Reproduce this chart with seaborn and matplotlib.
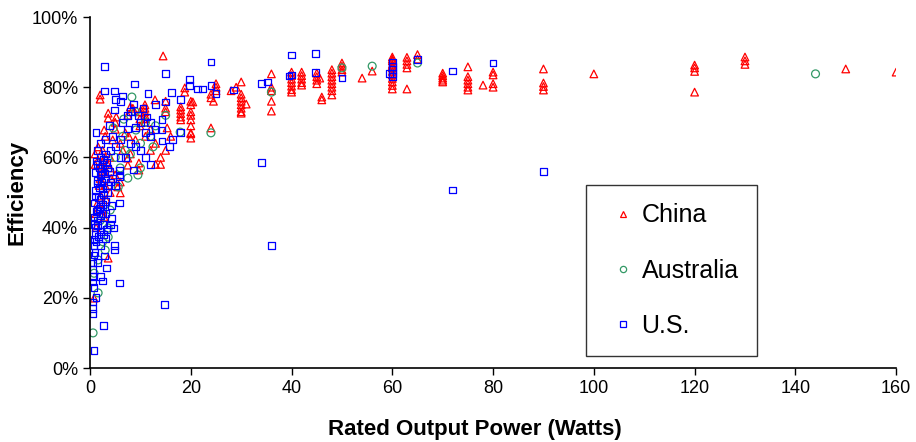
import numpy as np
import pandas as pd
import matplotlib
matplotlib.use("Agg")
import matplotlib.pyplot as plt
from matplotlib.ticker import PercentFormatter, MultipleLocator
from matplotlib.lines import Line2D
import seaborn as sns

# Rated output power (W) and efficiency (%)
china_w = [60, 60, 60, 60, 60, 60, 60, 60, 60, 60, 60, 60,
           62.9, 62.9, 62.9, 62.9, 62.9, 65, 65,
           70, 70, 70, 70, 70, 75, 75, 75, 75, 75, 75, 78,
           80, 80, 80, 80, 90, 90, 90, 90, 100,
           120, 120, 120, 120, 130, 130, 130, 150, 160,
           54, 56, 50, 50, 50, 50,
           48, 48, 48, 48, 48, 48, 48, 48,
           45, 45, 45, 45, 45.6, 46, 46,
           42, 42, 42, 42, 42,
           40, 40, 40, 40, 40, 40, 40,
           36, 36, 36, 36, 36,
           30, 30, 30, 30, 30, 30, 30, 30, 31, 29, 28,
           25, 25, 25, 24, 24, 24.5, 24,
           20, 20, 20, 20, 20, 20, 20, 20, 20, 20.4,
           18.8, 18.8, 18, 18, 18, 18, 18,
           14.5, 15, 15, 15, 15.3, 12.9, 14, 14, 15, 16, 13,
           10.9, 10.9, 10.9, 10.9, 10.9, 10.9, 9.9, 9.9, 9.9,
           8, 8.5, 7.5, 7.7, 8, 7.5, 7.5, 9.7, 9.7,
           3.6, 3.6, 5.2, 2, 2, 2.8, 1.6, 2.5,
           3, 3.5, 4, 2.5, 5, 6, 5.5, 6, 2, 3, 4, 1.5, 2.5, 1.2, 3.6, 0.8,
           1, 1, 4.5, 5, 6, 6.5, 7, 9, 11, 12, 12, 13, 5, 4, 3,
           1.5, 2, 2.5, 3, 1.8, 2.2, 3.2, 4.2, 1.2, 2.8]
china_eff = [88.6, 87.5, 86.5, 85.5, 84.5, 83.5, 82.5, 81.5, 80.5, 79.5, 88, 86,
             88.5, 87.5, 86.5, 85.5, 79.5, 89.3, 88,
             84, 83.3, 82.6, 82, 81.5, 85.8, 83, 82, 81, 80, 79.2, 80.6,
             84.3, 83.5, 81, 80, 85.2, 81.2, 80.2, 79.2, 83.8,
             86.3, 85.5, 84.5, 78.6, 88.6, 87.5, 86.5, 85.2, 84.3,
             82.6, 84.6, 86.9, 86, 85, 84.3,
             85, 84, 83, 82, 81, 80, 79, 77.8,
             84, 83, 82, 81, 82.6, 76.4, 77.2,
             84.3, 83.3, 82.3, 81.3, 80.6,
             84.3, 83.3, 82.3, 81.3, 80.3, 79.3, 78.6,
             83.8, 80, 79, 76, 73.2,
             81.5, 78, 77, 76, 75, 74, 73, 72.6, 75.2, 80, 79,
             81, 80, 79, 78, 77, 76, 68.4,
             76, 75, 73, 72, 70.7, 69, 67, 66.7, 65.5, 75.8,
             79.8, 78.6, 74.4, 73.5, 72.5, 71.5, 70.7,
             88.9, 76, 74, 73, 68.4, 76.4, 60, 58, 62, 66, 64,
             75, 74, 73, 72, 71, 70, 73, 71, 69,
             74.4, 74, 72, 66, 61, 59.8, 57.8, 58.4, 56.4,
             72.6, 71.2, 71.5, 77.8, 76.6, 67.8, 63, 62,
             60, 58, 57, 56, 55, 53, 51.6, 49.9, 54, 52, 50, 47, 45, 40, 31.3, 19.9,
             58, 61, 65, 68, 64, 62, 67, 65, 66, 62, 68, 58, 70, 60, 66,
             59, 57.5, 59, 55.5, 52, 49, 48, 54, 44, 43]

aus_w = [144, 65, 56, 50, 36, 24, 17.9, 8.3, 6.7, 4.6, 9.1, 12, 10, 13, 7,
         5.6, 7.5, 9.5, 3.6, 3.6, 3, 1.6, 0.8, 1.6, 0.6, 8, 11, 12.5, 2.5, 4, 6, 15, 10,
         5, 6.5, 9, 2]
aus_eff = [83.8, 86.9, 86, 85.5, 78.6, 67, 67.2, 77.2, 70.9, 68.4, 67.8, 66, 64, 69, 62,
           51.6, 54.1, 55, 39.9, 37.3, 33.6, 30.8, 27, 21.4, 10, 61, 70, 63, 36, 45, 57, 72, 57,
           60, 66, 73, 42]

us_w = [80, 72, 72, 90, 65, 60, 60, 60, 60, 60, 59.5, 50, 44.8, 44.8, 40, 39.5, 40,
        36, 34, 34, 35.3, 28.4, 24, 24, 25, 21.4, 22.4, 19.8, 19.8, 14.9, 16.2, 11.5,
        14.9, 17.9, 14.7,
        11.3, 12, 12.9, 14.3, 14.3, 17.9, 16.3, 12, 14.3, 15.7, 10, 11, 9, 8.7, 8.9,
        2.8, 2.8, 4.8, 6.5, 5, 6, 4.8, 1.2, 7.5, 6, 5, 4, 3, 2, 1.5, 2.5, 3.5,
        1, 2, 3, 4, 5, 1.5, 2.5, 3.5, 1, 2, 3, 0.8, 4.2, 5.8, 1.5, 2.5, 0.8, 1.5,
        2.5, 4.2, 4.6, 1, 2, 1, 0.8, 0.8, 4.8, 4.8, 0.8, 2.8, 0.6, 0.6, 3.2, 0.6,
        0.6, 2.4, 5.8, 0.8, 0.6, 0.5, 0.6, 2.6, 0.8, 8.7, 5.8, 5.8, 5.8, 7, 6, 8,
        9, 10, 11, 12, 6.5, 7.5, 8, 9.5, 3, 2, 1.5, 3.8, 4.5, 10.5, 13, 1, 2, 3,
        1.5, 2, 1.2,
        1.2, 1.8, 2.2, 2.6, 3.2, 1.4, 1.9, 2.3, 2.9, 3.4, 1.1, 1.6, 2.1, 2.7,
        3.8, 4.4, 1.3, 1.8, 2.4, 3.0, 0.9, 1.5, 2.0, 2.6, 3.3, 4.0, 1.2, 1.7]
us_eff = [86.9, 84.6, 50.7, 56, 88, 87, 86, 85, 84, 83, 84, 82.6, 89.7, 84.3, 89.2, 83.2, 83.5,
          35, 58.6, 81, 81.5, 79.2, 87.2, 80.6, 78.3, 79.5, 79.5, 82.3, 80.6, 84, 78.6, 78.3,
          75.8, 76.6, 18,
          71.5, 70, 68, 70.7, 67.8, 67.2, 65.2, 65.8, 64.7, 63, 70, 67, 68.5, 75.2, 80.9,
          85.8, 78.9, 78.9, 77.5, 76.6, 76, 73.5, 67.2, 68.1, 65, 63, 62, 61, 60, 58, 58, 57,
          55.6, 55, 54, 53, 52, 52.7, 51, 50, 49, 48, 47.5, 47, 46.4, 47, 45, 44, 43, 42,
          41, 42.7, 39.9, 40, 39, 38, 36.5, 35, 35, 33.6, 32.2, 31.9, 29.9, 28, 28.5, 26,
          24.5, 24.8, 24.2, 23, 18.8, 17, 15.5, 12, 5.1, 56.4, 56.4, 55, 54.4, 60, 60, 64,
          63, 62, 60, 58, 70, 72, 73, 72, 65, 64, 62, 69, 66, 74, 75, 33, 35, 37,
          30, 26, 20,
          59, 57, 56, 59.5, 58.5, 53.5, 51.5, 53, 55.5, 52, 50.5, 48.5, 46, 49.5,
          56, 54, 44.5, 45.5, 46.5, 44, 41, 40.5, 43.5, 38, 39.5, 41, 36, 37.5]

series = ["China", "Australia", "U.S."]
colors = {"China": "#ff0000", "Australia": "#339966", "U.S.": "#0000ff"}
markers = {"China": "^", "Australia": "o", "U.S.": "s"}
sizes = {"China": 30, "Australia": 32, "U.S.": 24}

df = pd.concat([
    pd.DataFrame({"power": china_w, "eff": china_eff, "country": "China"}),
    pd.DataFrame({"power": aus_w, "eff": aus_eff, "country": "Australia"}),
    pd.DataFrame({"power": us_w, "eff": us_eff, "country": "U.S."}),
])

sns.set_style("ticks")
plt.rcParams["font.family"] = ["Liberation Sans", "DejaVu Sans"]
plt.rcParams["text.color"] = "black"
plt.rcParams["axes.labelcolor"] = "black"

fig = plt.figure(figsize=(9.16, 4.42), dpi=100)
ax = fig.add_axes([0.0983, 0.1674, 0.8800, 0.7941])

for name in series:
    sub = df[df["country"] == name]
    sns.scatterplot(data=sub, x="power", y="eff", ax=ax, marker=markers[name],
                    s=sizes[name], color=colors[name], facecolors="none",
                    edgecolor=colors[name], linewidth=0.9, legend=False)

ax.set_xlim(0, 160)
ax.set_ylim(0, 100)
ax.xaxis.set_major_locator(MultipleLocator(20))
ax.yaxis.set_major_locator(MultipleLocator(20))
ax.yaxis.set_major_formatter(PercentFormatter(100, decimals=0))
ax.tick_params(axis="both", direction="out", length=5, width=1, labelsize=13,
               colors="black")
for side in ["top", "right"]:
    ax.spines[side].set_visible(False)
for side in ["left", "bottom"]:
    ax.spines[side].set_linewidth(1.2)
    ax.spines[side].set_color("black")

ax.set_xlabel("Rated Output Power (Watts)", fontsize=16, fontweight="bold", color="black")
ax.set_ylabel("Efficiency", fontsize=16, fontweight="bold", color="black")
ax.xaxis.set_label_coords(0.478, -0.145)
ax.yaxis.set_label_coords(-0.078, 0.5)

# legend with small open markers and a plain black frame
handles = [Line2D([], [], linestyle="none", marker=markers[n], markersize=4.5,
                  markerfacecolor="none", markeredgecolor=colors[n],
                  markeredgewidth=0.9, label=n) for n in series]
leg = ax.legend(handles=handles, loc="upper left", bbox_to_anchor=(0.615, 0.521),
                borderaxespad=0, fontsize=18, frameon=True, fancybox=False,
                labelspacing=1.25, borderpad=0.73, handletextpad=0.0,
                handlelength=1.5, labelcolor="black")
leg.get_frame().set_edgecolor("black")
leg.get_frame().set_linewidth(1.0)

fig.savefig("out.png", dpi=100)
